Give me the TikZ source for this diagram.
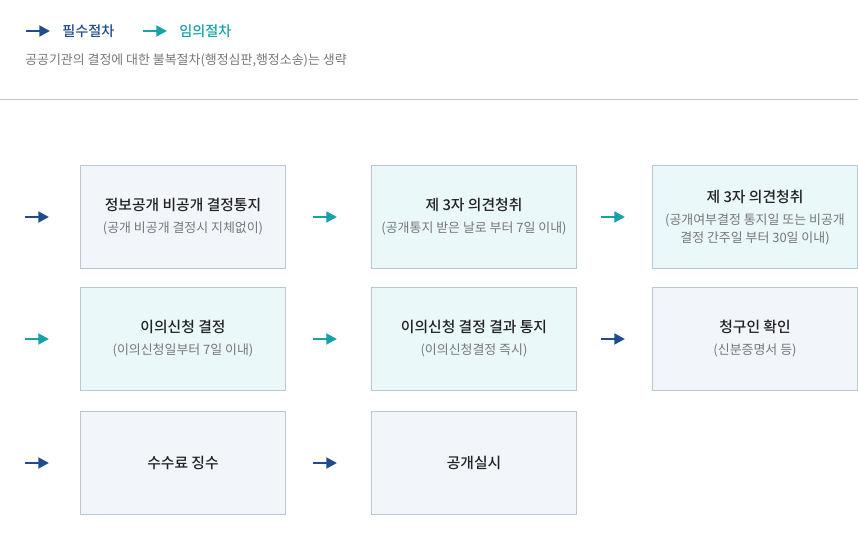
\documentclass[tikz,border=0pt]{standalone}
\usepackage{fontspec}
\setmainfont{Noto Sans CJK KR}[BoldFont={Noto Sans CJK KR Medium}]
\usetikzlibrary{arrows.meta}
\definecolor{navy}{HTML}{1E4C8C}
\definecolor{teal2}{HTML}{16A2A8}
\definecolor{fillA}{HTML}{F2F5FA}
\definecolor{fillB}{HTML}{EAF8FA}
\definecolor{edgeC}{HTML}{B9C7D3}
\definecolor{titleC}{HTML}{222222}
\definecolor{subC}{HTML}{777777}
\tikzset{
  pbox/.style={draw=edgeC, line width=0.75pt, minimum width=153.75pt, minimum height=77.25pt, inner sep=0pt, outer sep=0pt, anchor=north west, align=center},
  mand/.style={pbox, fill=fillA},
  opt/.style={pbox, fill=fillB},
  ttl/.style={font=\fontsize{11.1pt}{13pt}\selectfont\bfseries, text=titleC},
  sub/.style={font=\fontsize{9.7pt}{13.5pt}\selectfont, text=subC, align=center},
  arr/.style={line width=2.2pt, -{Triangle[length=8pt,width=8pt]}},
  marr/.style={arr, draw=navy},
  oarr/.style={arr, draw=teal2},
}
\begin{document}
\begin{tikzpicture}[x=0.75pt,y=-0.75pt]
\useasboundingbox (0,0) rectangle (858,539);
% legend
\coordinate (l1s) at (26,31); \coordinate (l1e) at (50,31);
\coordinate (l2s) at (143,31); \coordinate (l2e) at (167,31);
\draw[marr] (l1s) -- (l1e);
\draw[oarr] (l2s) -- (l2e);
\node[anchor=west, inner sep=0pt, text=navy, font=\fontsize{10.6pt}{12pt}\selectfont\bfseries] (lg1) at (62,31) {필수절차};
\node[anchor=west, inner sep=0pt, text=teal2, font=\fontsize{10.6pt}{12pt}\selectfont\bfseries] (lg2) at (179,31) {임의절차};
\node[anchor=west, inner sep=0pt, text=subC, font=\fontsize{9.7pt}{12pt}\selectfont] (note) at (25,60) {공공기관의 결정에 대한 불복절차(행정심판,행정소송)는 생략};
\coordinate (hl1) at (0,99.5); \coordinate (hl2) at (858,99.5);
\draw[draw=black!22, line width=0.75pt] (hl1) -- (hl2);
% row 1
\node[mand] (b11) at (80.5,165.5) {};
\node[ttl] (t11) at (183,205) {정보공개 비공개 결정통지};
\node[sub] (s11) at (183,228) {(공개 비공개 결정시 지체없이)};
\node[opt] (b12) at (371.5,165.5) {};
\node[ttl] (t12) at (474,205) {제 3자 의견청취};
\node[sub] (s12) at (474,228) {(공개통지 받은 날로 부터 7일 이내)};
\node[opt] (b13) at (652.5,165.5) {};
\node[ttl] (t13) at (755,197) {제 3자 의견청취};
\node[sub] (s13) at (755,229.5) {(공개여부결정 통지일 또는 비공개\\결정 간주일 부터 30일 이내)};
% row 2
\node[opt] (b21) at (80.5,287.5) {};
\node[ttl] (t21) at (183,327) {이의신청 결정};
\node[sub] (s21) at (183,350) {(이의신청일부터 7일 이내)};
\node[opt] (b22) at (371.5,287.5) {};
\node[ttl] (t22) at (474,327) {이의신청 결정 결과 통지};
\node[sub] (s22) at (474,350) {(이의신청결정 즉시)};
\node[mand] (b23) at (652.5,287.5) {};
\node[ttl] (t23) at (755,327) {청구인 확인};
\node[sub] (s23) at (755,350) {(신분증명서 등)};
% row 3
\node[mand] (b31) at (80.5,411.5) {};
\node[ttl] (t31) at (183,463) {수수료 징수};
\node[mand] (b32) at (371.5,411.5) {};
\node[ttl] (t32) at (474,463) {공개실시};
% arrows
\coordinate (a1s) at (25,217); \coordinate (a1e) at (49,217);
\coordinate (a2s) at (313,217); \coordinate (a2e) at (337,217);
\coordinate (a3s) at (601,217); \coordinate (a3e) at (625,217);
\coordinate (a4s) at (25,339); \coordinate (a4e) at (49,339);
\coordinate (a5s) at (313,339); \coordinate (a5e) at (337,339);
\coordinate (a6s) at (601,339); \coordinate (a6e) at (625,339);
\coordinate (a7s) at (25,463); \coordinate (a7e) at (49,463);
\coordinate (a8s) at (313,463); \coordinate (a8e) at (337,463);
\draw[marr] (a1s) -- (a1e);
\draw[oarr] (a2s) -- (a2e);
\draw[oarr] (a3s) -- (a3e);
\draw[oarr] (a4s) -- (a4e);
\draw[oarr] (a5s) -- (a5e);
\draw[marr] (a6s) -- (a6e);
\draw[marr] (a7s) -- (a7e);
\draw[marr] (a8s) -- (a8e);
\end{tikzpicture}
\end{document}
